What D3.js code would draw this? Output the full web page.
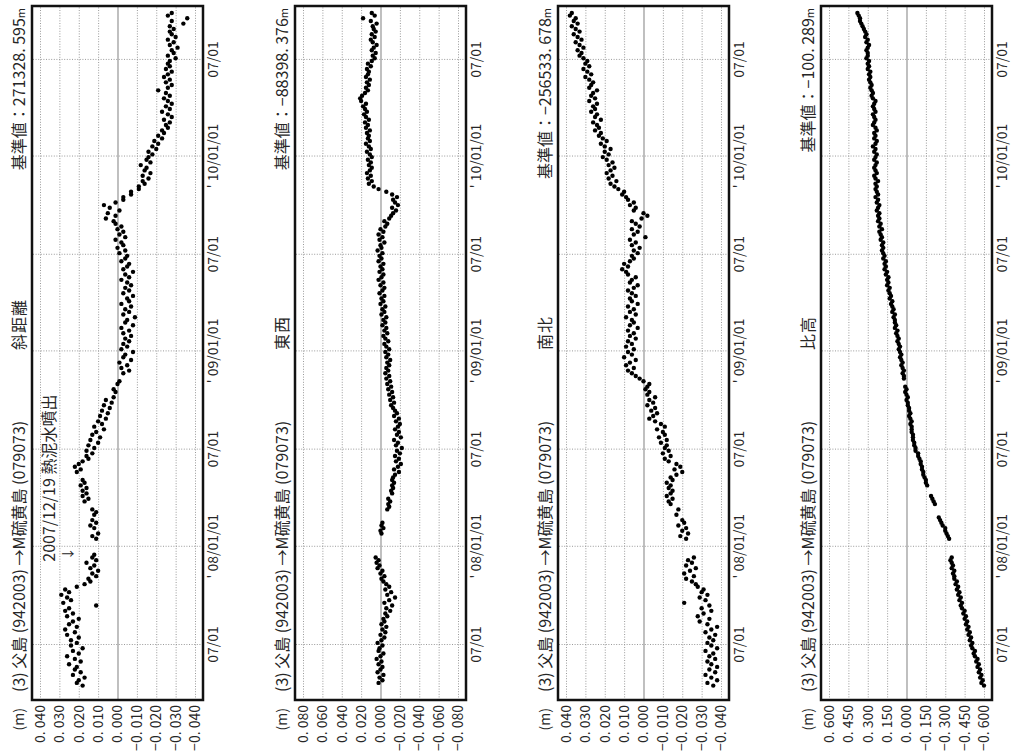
<!DOCTYPE html>
<html><head><meta charset="utf-8">
<script src="https://cdn.jsdelivr.net/npm/d3@7"></script>
<style>
html,body{margin:0;padding:0;background:#fff;}
svg{display:block;font-family:"Noto Sans CJK JP","Noto Sans",sans-serif;}
</style></head><body>
<svg id="chart" width="1011" height="753"></svg>
<script>
// ---------------- DATA ----------------
const stationTitle = "(3)   父島 (942003) →M硫黄島 (079073)";
const componentNames = ["斜距離", "東西", "南北", "比高"];
const baseValues = ["271328. 595", "−88398. 376", "−256533. 678", "−100. 289"];
const firstSampleDate = "2007-04-01";   // one sample every 5 days
const sampleStepDays = 5;

// 斜距離 (m)
const slopeDistance = [
 null,null,null,.018,.021,.020,.017,.023,.019,.022,
 .021,.025,.019,.022,.026,.020,.023,.018,.024,.021,
 .024,.020,.026,.022,.027,.021,.025,.023,.020,.026,
 .023,.027,.025,.011,.028,.024,.026,.029,.025,.027,
 .021,.017,.014,.015,.011,.013,.010,.014,.012,.016,
 .011,.013,.012,null,null,null,null,null,.011,.013,
 .010,null,.012,.014,.011,.013,null,.012,.011,.013,
 null,null,.017,.015,.018,.016,.018,.016,.019,.017,
 .018,null,null,.021,.019,.022,.020,.018,.015,.016,
 .013,.016,.012,.015,.010,.014,.009,.013,.011,.007,
 .012,.008,.010,.006,.009,.005,.008,.004,.007,.003,
 .006,.002,null,.001,.002,null,.000,-.001,null,null,
 -.003,-.006,-.002,-.005,-.001,-.007,-.003,-.004,-.008,-.002,
 -.005,-.003,-.006,-.004,-.007,-.003,-.006,-.002,-.008,-.004,
 -.005,-.009,-.003,-.006,-.004,-.007,-.002,-.006,-.005,-.008,
 -.003,-.006,-.004,-.007,-.005,-.002,-.006,-.004,-.008,-.003,
 -.005,-.006,-.002,-.004,-.005,-.001,-.004,.000,-.003,-.002,
 .001,-.004,-.001,-.003,.000,-.002,.001,.002,.006,.001,
 .005,-.001,.004,.007,.001,-.003,-.003,-.007,-.007,-.011,
 -.011,-.014,-.013,-.016,-.013,-.017,-.014,-.015,-.012,-.017,
 -.015,-.016,-.018,-.016,-.020,-.018,-.021,-.019,-.023,-.021,
 -.024,-.023,-.026,-.025,-.027,-.024,-.028,-.026,-.023,-.027,
 -.025,-.028,-.026,-.024,-.027,-.025,-.021,-.026,-.028,-.025,
 -.027,-.024,-.026,-.028,-.025,-.027,-.026,-.027,-.030,-.026,
 -.029,-.028,-.031,-.027,-.029,-.026,-.030,-.028,-.027,-.029,
 -.027,-.034,-.028,-.036,-.026,-.028
];
// 東西 (m)
const eastWest = [
 null,null,null,null,.002,-.002,.001,-.003,.003,.000,
 -.002,.002,-.001,.004,.000,-.003,.002,.001,-.002,.003,
 -.001,-.004,.000,-.005,-.002,-.006,-.001,-.004,-.003,-.007,
 -.005,-.010,-.006,-.012,-.004,-.009,-.015,-.007,-.011,-.005,
 -.009,-.006,-.003,-.001,-.004,.000,-.002,.003,.001,.004,
 .002,.005,null,null,null,null,null,null,null,null,
 -.001,.000,-.003,-.001,-.002,null,null,null,null,-.007,
 -.009,-.008,-.010,-.008,null,-.012,-.011,-.013,-.012,-.014,
 -.012,-.013,-.015,-.019,-.014,-.018,-.021,-.016,-.019,-.015,
 -.020,-.017,-.022,-.016,-.018,-.014,-.021,-.017,-.019,-.015,
 -.018,-.020,-.016,-.019,-.014,-.017,-.015,-.013,-.011,-.014,
 -.010,-.013,-.009,-.012,-.008,-.011,-.007,-.010,-.006,-.009,
 -.005,-.008,-.006,-.009,-.007,-.010,-.006,-.008,-.005,-.009,
 -.006,-.004,-.008,-.005,-.003,-.007,-.004,-.006,-.002,-.005,
 -.003,-.006,-.001,-.004,-.002,-.005,.000,-.003,-.001,-.004,
 .001,-.002,-.004,.000,-.003,.002,-.001,-.003,.001,-.002,
 .000,-.003,.002,-.001,.001,-.002,.003,-.001,.000,-.004,
 .001,-.002,.002,-.003,.000,-.005,-.007,-.004,-.009,-.011,
 -.013,-.016,-.012,-.018,-.015,-.013,-.017,-.012,-.006,.002,
 .007,.012,.009,.013,.010,.014,.011,.009,.012,.010,
 .013,.009,.011,.014,.010,.012,.015,.011,.013,.012,
 .014,.011,.015,.013,.016,.012,.015,.017,.014,.016,
 .018,.015,.020,.021,.019,.016,.013,.015,.012,.014,
 .011,.015,.013,.012,.014,.010,.013,.009,.006,.008,
 .005,.009,.007,.004,.008,.010,.006,.009,.005,.007,
 .008,.004,.010,.018,.006,.009
];
// 南北 (m)
const northSouth = [
 null,null,null,-.036,-.033,-.038,-.035,-.032,-.037,-.034,
 -.038,-.035,-.033,-.037,-.034,-.036,-.032,-.038,-.035,-.033,
 -.036,-.034,-.037,-.032,-.035,-.038,-.033,-.029,-.034,-.028,
 -.031,-.035,-.030,-.034,-.021,-.032,-.029,-.033,-.030,-.031,
 -.028,-.027,-.025,-.022,-.026,-.021,-.024,-.027,-.022,-.025,
 -.023,-.026,null,null,null,null,null,null,-.022,-.019,
 -.023,-.020,-.022,-.018,-.021,-.020,null,-.017,null,-.018,
 null,-.014,-.013,-.015,-.012,-.014,-.015,-.013,-.014,-.012,
 -.015,-.014,-.017,-.020,-.016,-.019,-.017,-.013,-.011,-.014,
 -.010,-.013,-.011,-.012,-.009,-.012,-.008,-.011,-.010,-.007,
 -.011,-.009,-.006,-.003,-.005,-.007,-.004,-.006,-.002,-.005,
 -.003,-.006,-.002,-.003,-.001,-.002,-.003,.000,.002,.004,
 .006,.008,.005,.009,.007,.004,.010,.006,.008,.005,
 .009,.006,.008,.004,.007,.005,.008,.003,.007,.005,
 .006,.009,.004,.007,.005,.008,.003,.006,.007,.004,
 .006,.008,.005,.003,.007,.006,.004,.008,.009,.011,
 .008,.010,.007,.005,.006,.003,.005,.002,.006,.004,
 .007,-.001,.005,.003,.006,.002,.004,.006,.001,-.002,
 .000,.005,.004,.007,.005,.008,.009,.011,.010,.013,
 .015,.017,.014,.018,.016,.019,.017,.015,.018,.016,
 .019,.021,.018,.020,.017,.020,.022,.019,.021,.023,
 .022,.025,.023,.024,.026,.022,.025,.024,.027,.025,
 .026,.024,.028,.025,.027,.026,.024,.028,.027,.026,
 .028,.030,.027,.029,.031,.028,.030,.029,.031,.033,
 .032,.034,.031,.033,.035,.032,.034,.036,.033,.035,
 .037,.034,.036,.035,.038,.037
];
// 比高 (m)
const relativeHeight = [
 null,null,null,-.60,-.58,-.59,-.57,-.58,-.56,-.57,
 -.55,-.56,-.54,-.55,-.53,-.52,-.53,-.51,-.50,-.51,
 -.49,-.50,-.48,-.49,-.47,-.48,-.46,-.47,-.45,-.46,
 -.44,-.45,-.43,-.42,-.43,-.41,-.42,-.40,-.41,-.39,
 -.40,-.38,-.39,-.37,-.37,-.36,-.37,-.35,-.36,-.35,
 -.34,-.35,null,null,null,null,null,null,-.33,-.32,
 -.31,-.30,-.30,-.28,-.27,-.26,-.25,null,null,null,
 null,-.22,-.21,-.20,-.19,null,null,null,-.16,-.15,
 -.15,-.14,-.13,-.13,-.12,-.12,-.11,-.11,-.10,-.09,
 -.09,-.07,-.07,-.06,-.06,-.05,-.05,-.05,-.04,-.04,
 -.04,-.03,-.04,-.03,-.02,-.03,-.02,-.02,-.01,-.01,
 .00,-.01,.00,.01,.00,.01,null,null,.02,.02,
 .03,.02,.03,.04,.03,.04,.05,.04,.05,.06,
 .05,.06,.07,.06,.07,.08,.07,.09,.08,.09,
 .09,.10,.09,.11,.10,.11,.12,.11,.13,.12,
 .13,.14,.13,.15,.14,.15,.14,.16,.15,.17,
 .16,.17,.16,.18,.17,.18,.19,.18,.19,.18,
 .20,.19,.20,.21,.19,.21,.20,.22,.21,.22,
 .21,.23,.22,.21,.23,.22,.24,.22,.23,.24,
 .23,.24,.22,.24,.25,.23,.24,.25,.24,.23,
 .25,.24,.23,.25,.24,.26,.24,.23,.25,.24,
 .25,.23,.24,.26,.25,.24,.25,.26,.24,.25,
 .26,.25,.24,.26,.27,.26,.27,.28,.27,.28,
 .29,.28,.29,.28,.30,.29,.30,.29,.31,.30,
 .30,.31,.30,.29,.31,.30,.32,.31,.32,.33,
 .34,.35,.36,.36,.37,.38
];

const ticksSlope = [0.04, 0.03, 0.02, 0.01, 0, -0.01, -0.02, -0.03, -0.04];
const ticksEW    = [0.08, 0.06, 0.04, 0.02, 0, -0.02, -0.04, -0.06, -0.08];
const ticksNS    = [0.04, 0.03, 0.02, 0.01, 0, -0.01, -0.02, -0.03, -0.04];
const ticksUp    = [0.6, 0.45, 0.3, 0.15, 0, -0.15, -0.3, -0.45, -0.6];

const timeTickDates  = ["2007-07-01","2008-01-01","2008-07-01","2009-01-01","2009-07-01","2010-01-01","2010-07-01"];
const timeTickLabels = ["07/01","' 08/01/01","07/01","' 09/01/01","07/01","' 10/01/01","07/01"];
const timeDomain = ["2007-03-20", "2010-10-10"];

const eventDate = "2007-12-19";
const eventLabel = "2007/12/19  熱泥水噴出";

// ---------------- DRAW ----------------
const parse = s => { const [y,m,d] = s.split("-").map(Number); return new Date(Date.UTC(y, m-1, d)); };
const panels = [
  {values: slopeDistance, ticks: ticksSlope, name: componentNames[0], base: baseValues[0], event: true},
  {values: eastWest,      ticks: ticksEW,    name: componentNames[1], base: baseValues[1]},
  {values: northSouth,    ticks: ticksNS,    name: componentNames[2], base: baseValues[2]},
  {values: relativeHeight,ticks: ticksUp,    name: componentNames[3], base: baseValues[3]}
];

const svg = d3.select("#chart");
const W = 694, H = 171, PAD = 8, BOTTOM = 700;
const lefts = [32, 295, 558, 821];
const x = d3.scaleUtc().domain(timeDomain.map(parse)).range([0, W]);
const t0 = parse(firstSampleDate);
const tickDates = timeTickDates.map(parse);
const INK = "#262626";

const fmt = v => {
  const s = Math.abs(v).toFixed(3).replace(".", ". ");
  return (v < -1e-9 ? "−" : "") + s;
};

panels.forEach((p, k) => {
  const g = svg.append("g").attr("transform", `translate(${lefts[k]},${BOTTOM}) rotate(-90)`);
  const m = d3.max(p.ticks);
  const y = d3.scaleLinear().domain([-m, m]).range([H - PAD, PAD]);

  // horizontal grid (value)
  const gy = g.append("g").call(d3.axisLeft(y).tickValues(p.ticks).tickSize(-W).tickFormat(""));
  gy.select(".domain").remove();
  gy.selectAll(".tick line")
    .attr("stroke", d => Math.abs(d) < 1e-9 ? "#b0b0b0" : "#9a9a9a")
    .attr("stroke-width", d => Math.abs(d) < 1e-9 ? 1.6 : 1)
    .attr("stroke-dasharray", d => Math.abs(d) < 1e-9 ? null : "1,1.6");

  // vertical grid (time)
  const gx = g.append("g").attr("transform", `translate(0,${H})`)
    .call(d3.axisBottom(x).tickValues(tickDates).tickSize(-H).tickFormat(""));
  gx.select(".domain").remove();
  gx.selectAll(".tick line").attr("stroke", "#9a9a9a").attr("stroke-dasharray", "1,1.6");

  // value labels
  const ay = g.append("g").call(d3.axisLeft(y).tickValues(p.ticks).tickSize(0).tickPadding(5).tickFormat(fmt));
  ay.select(".domain").remove();
  ay.selectAll("text").attr("font-size", 14).attr("fill", INK).attr("font-family", "Noto Sans CJK JP");

  // time labels
  const ax = g.append("g").attr("transform", `translate(0,${H})`)
    .call(d3.axisBottom(x).tickValues(tickDates).tickSize(0).tickPadding(5)
      .tickFormat((d, i) => timeTickLabels[i]));
  ax.select(".domain").remove();
  ax.selectAll("text").attr("font-size", 14).attr("fill", INK).attr("font-family", "Noto Sans CJK JP");

  // points
  const pts = p.values.map((v, i) => ({date: d3.utcDay.offset(t0, i * sampleStepDays), v}))
    .filter(d => d.v !== null);
  g.append("g").selectAll("circle").data(pts).join("circle")
    .attr("cx", d => x(d.date)).attr("cy", d => y(d.v)).attr("r", 2.2).attr("fill", "#000");

  // frame
  g.append("rect").attr("x", 0).attr("y", 0).attr("width", W).attr("height", H)
    .attr("fill", "none").attr("stroke", "#111").attr("stroke-width", 2.5);

  // header texts
  g.append("text").attr("x", -8).attr("y", -8).attr("text-anchor", "end")
    .attr("font-size", 14).attr("fill", INK).text("(m)");
  g.append("text").attr("x", 8).attr("y", -7).attr("font-size", 16).attr("fill", INK).text(stationTitle);
  g.append("text").attr("x", 350).attr("y", -7).attr("font-size", 16).attr("fill", INK)
    .attr("letter-spacing", 1).text(p.name);
  const bt = g.append("text").attr("x", W - 2).attr("y", -7).attr("text-anchor", "end")
    .attr("font-size", 16).attr("fill", INK);
  bt.append("tspan").text("基準値：" + p.base);
  bt.append("tspan").attr("font-size", 11).text("m");

  if (p.event) {
    const ex = x(parse(eventDate));
    g.append("text").attr("x", ex - 8).attr("y", 23).attr("font-size", 16).attr("fill", INK).text(eventLabel);
    g.append("text").attr("x", ex).attr("y", 40).attr("text-anchor", "middle")
      .attr("font-size", 13).attr("fill", INK).text("↓");
  }
});
</script>
</body></html>
